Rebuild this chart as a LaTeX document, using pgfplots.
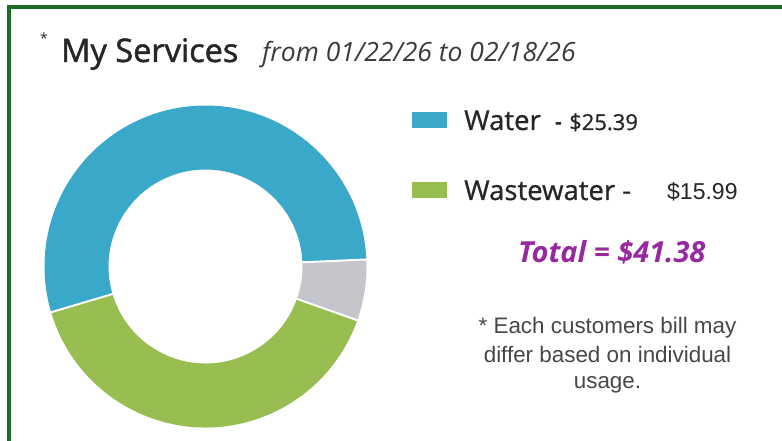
\documentclass[border=0pt]{standalone}
\usepackage{pgfplots}
\usepackage{pgfplotstable}
\pgfplotsset{compat=1.18}
\usepackage{fontspec}
\setmainfont{Open Sans}
\newfontfamily\semif[FakeBold=0.8]{Open Sans}
\newfontfamily\titlef[FakeBold=1.4]{Open Sans}
\newfontfamily\arialf{Liberation Sans}
\definecolor{waterblue}{RGB}{58,168,200}
\definecolor{wastegreen}{RGB}{152,190,82}
\definecolor{othergray}{RGB}{196,198,204}
\definecolor{framegreen}{RGB}{28,108,40}
\definecolor{totalpurple}{RGB}{150,40,160}
\definecolor{textdark}{RGB}{38,38,42}

% slice sizes (degrees of the ring)
\pgfplotstableread{
slice degrees
Other 22
Water 194
Wastewater 144
}\slicedata

\pgfplotstablegetelem{0}{degrees}\of\slicedata \let\dOther\pgfplotsretval
\pgfplotstablegetelem{1}{degrees}\of\slicedata \let\dWater\pgfplotsretval
\pgfplotstablegetelem{2}{degrees}\of\slicedata \let\dWaste\pgfplotsretval
\pgfmathsetmacro\aA{-19.5}
\pgfmathsetmacro\aB{\aA+\dOther}
\pgfmathsetmacro\aC{\aB+\dWater}
\pgfmathsetmacro\aD{\aC+\dWaste}

\newcommand\ringwedge[3]{%
  \fill[#3] (axis cs:0,0) ++(#1:161pt) arc[start angle=#1, end angle=#2, radius=161pt]
     -- ++(#2+180:64pt) arc[start angle=#2, end angle=#1, radius=97pt] -- cycle;}
\newcommand\ringgap[1]{%
  \draw[white, line width=2pt] (axis cs:0,0) ++(#1:94pt) -- ++(#1:70pt);}

\begin{document}
\begin{tikzpicture}[x=1pt,y=-1pt]
\useasboundingbox (0,0) rectangle (782,441);
\fill[white] (0,0) rectangle (782,441);
% frame
\fill[framegreen] (7,5) rectangle (782,9.3);
\fill[framegreen] (7,5) rectangle (11,441);

\begin{axis}[at={(205.5pt,-266.5pt)}, anchor=origin, x=1pt, y=1pt,
  xmin=-165, xmax=165, ymin=-165, ymax=165, hide axis, clip=false]
  \ringwedge{\aA}{\aB}{othergray}
  \ringwedge{\aB}{\aC}{waterblue}
  \ringwedge{\aC}{\aD}{wastegreen}
  \ringgap{\aA}
  \ringgap{\aB}
  \ringgap{\aC}
\end{axis}

% title
\node[anchor=base west, inner sep=0pt, text=textdark, font=\fontsize{14}{14}\selectfont] at (40,44) {*};
\node[anchor=base west, inner sep=0pt, text=textdark, font=\titlef\fontsize{32.5}{33}\selectfont] at (61,62) {My Services};
\node[anchor=base west, inner sep=0pt, text=textdark!90, font=\itshape\fontsize{26.5}{27}\selectfont] at (262,62) {from 01/22/26 to 02/18/26};

% legend
\fill[waterblue] (412,111.7) rectangle (447,128.3);
\fill[wastegreen] (412,181.7) rectangle (447,198.3);
\node[anchor=base west, inner sep=0pt, text=textdark, font=\semif\fontsize{27.5}{28}\selectfont] at (464,130) {Water};
\node[anchor=base west, inner sep=0pt, text=textdark, font=\bfseries\fontsize{21}{21}\selectfont] at (555,130) {-};
\node[anchor=base west, inner sep=0pt, text=textdark, font=\semif\fontsize{22}{22}\selectfont] at (569,130) {\$25.39};
\node[anchor=base west, inner sep=0pt, text=textdark, font=\semif\fontsize{27.5}{28}\selectfont] at (464,200) {Wastewater -};
\node[anchor=base west, inner sep=0pt, text=textdark, font=\arialf\fontsize{23}{23}\selectfont] at (667,200) {\$15.99};

% total
\node[anchor=base west, inner sep=0pt, text=totalpurple, font=\bfseries\itshape\fontsize{29}{29}\selectfont] at (518,262) {Total = \$41.38};

% note
\node[anchor=base, inner sep=0pt, text=textdark!85, font=\arialf\fontsize{22.4}{22.4}\selectfont] at (607.5,333) {* Each customers bill may};
\node[anchor=base, inner sep=0pt, text=textdark!85, font=\arialf\fontsize{22.4}{22.4}\selectfont] at (607.5,362) {differ based on individual};
\node[anchor=base, inner sep=0pt, text=textdark!85, font=\arialf\fontsize{22.4}{22.4}\selectfont] at (607.5,388) {usage.};
\end{tikzpicture}
\end{document}
